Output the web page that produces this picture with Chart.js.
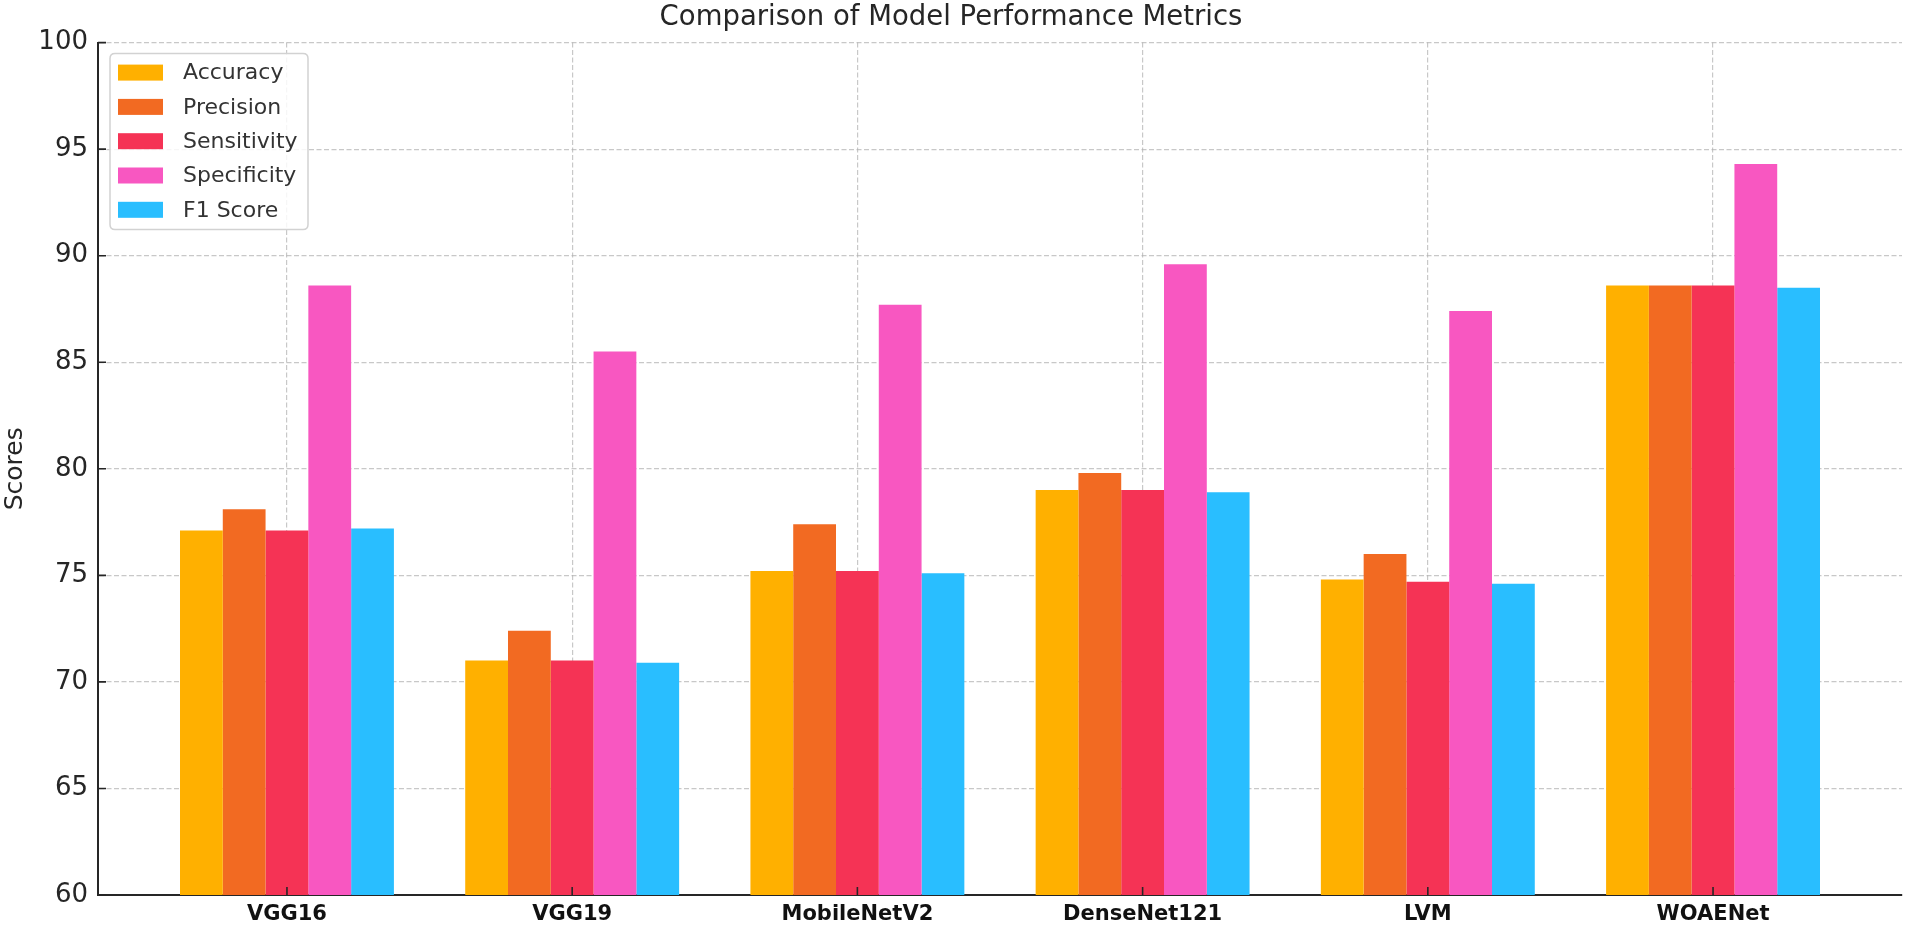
<!DOCTYPE html>
<html>
<head>
<meta charset="utf-8">
<script src="https://cdn.jsdelivr.net/npm/chart.js@4.4.1/dist/chart.umd.min.js"></script>
<style>
html,body{margin:0;padding:0;background:#fff;}
#wrap{width:1908px;height:929px;position:relative;}
</style>
</head>
<body>
<div id="wrap"><canvas id="c"></canvas></div>
<script>
const categories = ['VGG16', 'VGG19', 'MobileNetV2', 'DenseNet121', 'LVM', 'WOAENet'];
const seriesNames = ['Accuracy', 'Precision', 'Sensitivity', 'Specificity', 'F1 Score'];
const accuracy    = [77.1, 71.0, 75.2, 79.0, 74.8, 88.6];
const precision   = [78.1, 72.4, 77.4, 79.8, 76.0, 88.6];
const sensitivity = [77.1, 71.0, 75.2, 79.0, 74.7, 88.6];
const specificity = [88.6, 85.5, 87.7, 89.6, 87.4, 94.3];
const f1Score     = [77.2, 70.9, 75.1, 78.9, 74.6, 88.5];
const yTicks = [60, 65, 70, 75, 80, 85, 90, 95, 100];

const seriesValues = [accuracy, precision, sensitivity, specificity, f1Score];
const seriesColors = ['#FFB000', '#F26A22', '#F53355', '#F857C1', '#29BEFF'];

Chart.defaults.font.family = "'DejaVu Sans', sans-serif";

const gridColor = 'rgba(176,176,176,0.7)';
const axisColor = '#262626';

const inwardTicks = {
  id: 'inwardTicks',
  afterDraw(chart) {
    const {ctx, chartArea: a, scales: {x, y}} = chart;
    ctx.save();
    ctx.strokeStyle = axisColor;
    ctx.lineWidth = 1.6;
    ctx.beginPath();
    yTicks.forEach(v => {
      const py = y.getPixelForValue(v);
      ctx.moveTo(a.left, py); ctx.lineTo(a.left + 8, py);
    });
    categories.forEach((c, i) => {
      const px = x.getPixelForValue(i);
      ctx.moveTo(px, a.bottom); ctx.lineTo(px, a.bottom - 8);
    });
    ctx.stroke();
    ctx.restore();
  }
};

const boxLegend = {
  id: 'boxLegend',
  afterDraw(chart) {
    const {ctx, chartArea: a} = chart;
    const x0 = a.left + 12, y0 = a.top + 11, w = 198, h = 176, r = 5;
    ctx.save();
    ctx.beginPath();
    ctx.moveTo(x0 + r, y0);
    ctx.lineTo(x0 + w - r, y0);
    ctx.quadraticCurveTo(x0 + w, y0, x0 + w, y0 + r);
    ctx.lineTo(x0 + w, y0 + h - r);
    ctx.quadraticCurveTo(x0 + w, y0 + h, x0 + w - r, y0 + h);
    ctx.lineTo(x0 + r, y0 + h);
    ctx.quadraticCurveTo(x0, y0 + h, x0, y0 + h - r);
    ctx.lineTo(x0, y0 + r);
    ctx.quadraticCurveTo(x0, y0, x0 + r, y0);
    ctx.closePath();
    ctx.fillStyle = 'rgba(255,255,255,0.85)';
    ctx.fill();
    ctx.strokeStyle = '#d2d2d2';
    ctx.lineWidth = 1.5;
    ctx.stroke();
    ctx.font = "22px 'DejaVu Sans'";
    ctx.textBaseline = 'middle';
    ctx.textAlign = 'left';
    chart.data.datasets.forEach((ds, i) => {
      const cy = y0 + 19 + i * 34.3;
      ctx.fillStyle = ds.backgroundColor;
      ctx.fillRect(x0 + 8, cy - 8, 45, 16);
      ctx.fillStyle = '#333333';
      ctx.fillText(ds.label, x0 + 73, cy + 1);
    });
    ctx.restore();
  }
};

new Chart(document.getElementById('c'), {
  type: 'bar',
  data: {
    datasets: seriesNames.map((name, k) => ({
      label: name,
      data: seriesValues[k].map((v, i) => ({x: i, y: v})),
      backgroundColor: seriesColors[k],
      borderWidth: 0,
      categoryPercentage: 0.75,
      barPercentage: 1.0
    }))
  },
  options: {
    responsive: true,
    maintainAspectRatio: false,
    animation: false,
    layout: {padding: {left: 0, right: 6, top: 0, bottom: 0}},
    plugins: {
      legend: {display: false},
      tooltip: {enabled: false},
      title: {
        display: true,
        text: 'Comparison of Model Performance Metrics',
        color: axisColor,
        font: {size: 27.5, weight: 'normal'},
        padding: {top: 1, bottom: 8.6}
      }
    },
    scales: {
      x: {
        type: 'linear',
        min: -0.6625,
        max: 5.6625,
        offset: false,
        z: 1,
        afterBuildTicks: s => { s.ticks = categories.map((_, i) => ({value: i})); },
        afterFit: s => { s.height = 34; },
        ticks: {
          callback: v => (categories[v] !== undefined ? categories[v] : ''),
          font: {size: 21, weight: 'bold'},
          color: '#111111',
          padding: 7,
          maxRotation: 0,
          autoSkip: false
        },
        grid: {color: gridColor, lineWidth: 1.2, drawTicks: false, offset: false},
        border: {display: true, color: axisColor, width: 2, dash: [5, 2.5]}
      },
      y: {
        min: 60,
        max: 100,
        z: 1,
        afterBuildTicks: s => { s.ticks = yTicks.map(v => ({value: v})); },
        afterFit: s => { s.width = 98; },
        ticks: {font: {size: 26}, color: axisColor, padding: 10},
        grid: {color: gridColor, lineWidth: 1.2, drawTicks: false},
        border: {display: true, color: axisColor, width: 2, dash: [5, 2.5]},
        title: {display: true, text: 'Scores', font: {size: 25}, color: axisColor, padding: 0}
      }
    }
  },
  plugins: [inwardTicks, boxLegend]
});
</script>
</body>
</html>
